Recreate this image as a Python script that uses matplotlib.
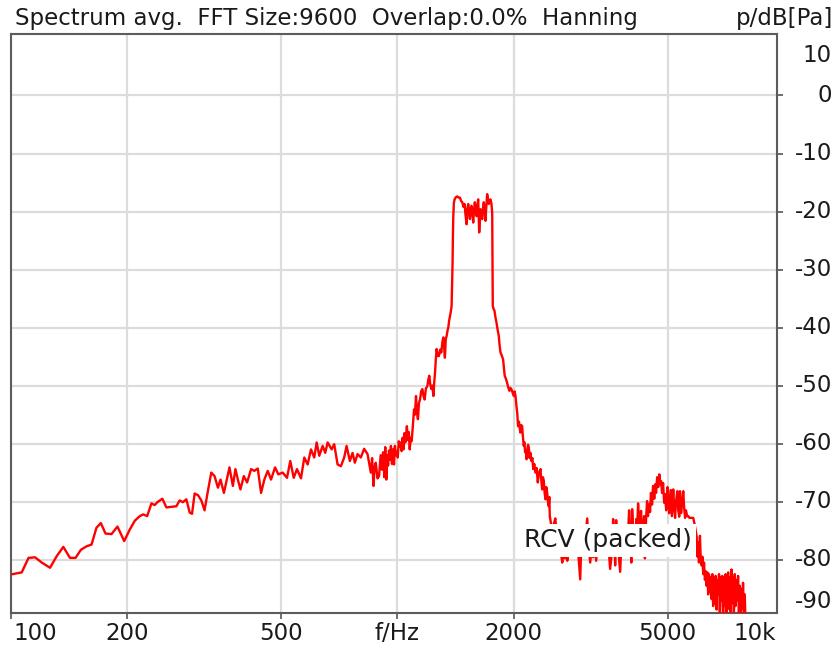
import matplotlib
matplotlib.use("Agg")
import matplotlib.pyplot as plt
import matplotlib.transforms as mtransforms
import numpy as np

plt.rcParams["font.family"] = ["DejaVu Sans"]

TITLE = "Spectrum avg.  FFT Size:9600  Overlap:0.0%  Hanning"
UNIT = "p/dB[Pa]"
CHANNEL = "RCV (packed)"

# below the tone: slow rise of the background noise
low_f = [101, 106.6, 111, 115.4, 120.1, 126.2, 131.3, 136.6, 142.1, 146.9,
         151.7, 156.9, 161.6, 166.4, 170.8, 175.6, 182.0, 188.6, 196.3, 203.0,
         209.1, 215.4, 219.8, 225.1, 230.9, 235.4, 239.2, 246.4, 252.4, 260.0,
         267.9, 273.2, 278.6, 284.3, 290.0, 294.1, 298.7, 304.8, 310.8, 316.9,
         322.0, 329.8]
low_db = [-82.5, -82.2, -79.7, -79.6, -80.5, -81.4, -79.4, -77.8, -79.7, -79.7,
          -78.3, -77.7, -77.4, -74.5, -73.7, -75.5, -75.6, -74.3, -76.8, -74.8,
          -73.3, -72.5, -72.2, -72.5, -70.3, -70.6, -70.1, -69.5, -71.0, -70.9,
          -70.8, -69.8, -70.1, -69.6, -71.9, -72.1, -68.6, -68.9, -69.8, -71.5,
          -68.8, -65.0]

mid_f = [336.3, 343.2, 348.5, 355.6, 362.6, 367.6, 375.1, 380.9, 386.4, 392.4,
         400.4, 408.3, 418.1, 426.4, 435.1, 443.7, 452.5, 461.7, 470.9, 482.3,
         491.8, 504.8, 517.9, 528.1, 539.0, 549.7, 562.9, 574.1, 585.7, 597.4,
         609.2, 618.0, 627.6, 640.4, 650.4, 659.8, 675.6, 686.1, 700.1, 714.0,
         728.1, 738.6, 753.2, 765.4, 775.9, 788.5, 804.1, 820.0, 836.8, 853.4,
         860, 867.3, 873, 879.0, 888, 896.4, 905, 912, 918, 925,
         930, 936, 941, 946, 951, 957, 962, 968, 974, 980,
         985, 990, 996, 1002, 1008, 1014, 1019, 1025, 1031, 1037,
         1042, 1048, 1053, 1058, 1064, 1070, 1076, 1082, 1088, 1093]
mid_db = [-65.6, -67.6, -66.2, -68.5, -65.9, -64.1, -67.3, -64.4, -66.2, -67.9,
          -65.6, -66.7, -64.4, -64.7, -64.3, -68.5, -66.2, -64.7, -66.2, -64.1,
          -65.3, -65.0, -65.9, -63.0, -65.9, -64.4, -66.0, -62.4, -63.6, -61.0,
          -62.4, -59.8, -62.1, -60.4, -61.6, -59.8, -61.0, -60.1, -63.6, -63.9,
          -62.4, -60.4, -63.0, -61.6, -63.3, -61.8, -62.4, -60.9, -61.8, -65.0,
          -62.5, -67.3, -64.0, -63.3, -66.0, -65.6, -62.0, -64.5, -61.5, -65.8,
          -60.6, -66.2, -62.0, -63.8, -61.2, -62.8, -60.4, -63.5, -61.0, -63.6,
          -60.4, -62.0, -61.3, -62.4, -59.6, -60.5, -59.8, -61.3, -59.0, -61.0,
          -58.2, -59.8, -58.6, -57.0, -59.4, -58.0, -61.0, -59.0, -59.6, -58.1]

# tone band with its steep skirts
tone_f = [1099, 1104, 1110, 1117, 1123, 1130, 1137, 1144, 1152, 1160,
          1168, 1176, 1185, 1195, 1202, 1209, 1216, 1224, 1232, 1239,
          1245, 1251, 1257, 1263, 1272, 1281, 1290, 1299, 1307, 1315,
          1321, 1327, 1334, 1341, 1348, 1354, 1361, 1368, 1375, 1381,
          1386, 1389, 1392, 1395, 1400, 1406, 1418, 1429, 1440, 1451,
          1462, 1472, 1482, 1492, 1500, 1510, 1517, 1525, 1532, 1540,
          1548, 1555, 1563, 1571, 1578, 1586, 1594, 1602, 1610, 1618,
          1623, 1628, 1634, 1641, 1649, 1657, 1665, 1673, 1681, 1690,
          1698, 1707, 1715, 1723, 1732, 1741, 1750, 1759, 1762, 1765,
          1774, 1783, 1793, 1804, 1816, 1829, 1838, 1848, 1862, 1877,
          1886, 1895, 1908, 1922, 1935, 1949, 1960, 1972, 1986, 2000,
          2010, 2021, 2032, 2042, 2052, 2063, 2074, 2081, 2090, 2103,
          2110, 2123, 2131, 2140, 2153, 2158, 2168, 2178, 2188, 2198,
          2210, 2222, 2235, 2246, 2260, 2277, 2292, 2308, 2325, 2346,
          2358, 2369, 2380, 2392, 2404, 2416, 2428, 2441, 2452, 2464,
          2472, 2479]
tone_db = [-56.0, -54.1, -55.0, -51.8, -54.5, -55.8, -53.0, -52.4, -51.0, -50.6,
           -51.8, -52.4, -50.5, -50.1, -49.0, -48.3, -49.8, -50.6, -50.0, -51.8,
           -49.5, -47.8, -45.5, -43.7, -44.9, -44.9, -43.8, -44.3, -42.5, -41.7,
           -43.5, -45.2, -42.0, -41.4, -40.5, -40.0, -38.8, -38.0, -37.2, -36.3,
           -32.0, -28.8, -24.0, -20.8, -18.5, -17.9, -17.5, -17.4, -17.6, -17.6,
           -18.2, -18.4, -19.2, -18.7, -20.5, -22.2, -19.5, -18.7, -20.0, -21.3,
           -19.5, -19.0, -20.5, -21.9, -19.8, -18.4, -19.6, -20.8, -19.0, -17.9,
           -20.5, -23.6, -21.5, -19.6, -20.2, -21.3, -19.5, -18.4, -19.8, -21.6,
           -19.2, -17.0, -17.8, -18.7, -18.2, -17.9, -18.5, -20.2, -28.0, -36.3,
           -36.8, -37.1, -38.2, -39.1, -40.3, -41.4, -43.0, -44.3, -44.8, -45.5,
           -47.0, -48.3, -48.8, -49.5, -50.3, -50.9, -50.4, -50.6, -51.2, -51.8,
           -51.0, -51.8, -53.5, -54.7, -57.0, -56.2, -57.5, -58.1, -56.8, -57.0,
           -58.5, -60.4, -59.8, -61.5, -61.6, -62.7, -61.0, -60.2, -60.7, -62.5,
           -61.6, -63.0, -62.5, -64.4, -63.5, -65.0, -64.2, -66.7, -65.0, -64.4,
           -66.5, -67.9, -65.8, -66.4, -68.5, -69.6, -67.5, -68.5, -70.0, -70.8,
           -69.2, -72.5]

# upper band: noise floor, harmonic hump near 5 kHz, roll-off to 8 kHz
high_f = [2500, 2518, 2540, 2562, 2585, 2608, 2630, 2650, 2671, 2695,
          2718, 2735, 2751, 2775, 2800, 2825, 2851, 2876, 2902, 2935,
          2972, 2990, 3010, 3026, 3060, 3099, 3120, 3154, 3180, 3211,
          3240, 3268, 3300, 3348, 3380, 3408, 3440, 3469, 3510, 3552,
          3585, 3616, 3640, 3660, 3681, 3720, 3770, 3800, 3837, 3870,
          3907, 3940, 3977, 4000, 4030, 4049, 4080, 4121, 4150, 4170,
          4195, 4230, 4271, 4300, 4348, 4370, 4400, 4426, 4450, 4480,
          4506, 4530, 4560, 4587, 4620, 4650, 4670, 4700, 4730, 4762,
          4790, 4815, 4839, 4870, 4900, 4926, 4960, 4999, 5030, 5050,
          5074, 5100, 5130, 5174, 5200, 5230, 5259, 5300, 5330, 5360,
          5385, 5420, 5450, 5491, 5520, 5550, 5580, 5620, 5656, 5700,
          5748, 5800, 5827, 5880, 5947, 5980, 6004, 6030, 6065, 6095,
          6127, 6155, 6185, 6215, 6248, 6280, 6310, 6340, 6370, 6400,
          6435, 6465, 6500, 6530, 6562, 6595, 6629, 6660, 6696, 6728,
          6760, 6795, 6829, 6860, 6898, 6930, 6964, 7000, 7035, 7070,
          7107, 7140, 7176, 7210, 7247, 7285, 7321, 7355, 7390, 7425,
          7464, 7500, 7540, 7575, 7613, 7650, 7689, 7730, 7767, 7805,
          7842, 7880, 7920, 7960, 8001]
high_db = [-74.0, -75.5, -73.8, -72.9, -76.0, -78.5, -77.0, -79.0, -80.5, -78.0,
           -79.8, -76.5, -80.2, -77.5, -75.0, -78.0, -76.5, -79.0, -77.2, -78.6,
           -83.4, -77.5, -75.8, -78.5, -76.2, -72.9, -77.0, -80.5, -78.0, -79.6,
           -77.0, -80.2, -76.5, -78.0, -75.0, -77.5, -76.0, -78.5, -77.0, -81.6,
           -79.0, -73.0, -76.5, -81.0, -73.2, -77.5, -82.1, -77.0, -74.5, -79.0,
           -75.0, -77.5, -71.5, -76.0, -80.5, -71.3, -75.5, -78.0, -73.0, -75.5,
           -70.3, -74.5, -71.6, -77.0, -72.5, -79.8, -73.0, -69.9, -72.5, -70.5,
           -71.8, -68.5, -70.5, -67.3, -69.5, -67.0, -68.5, -65.8, -67.5, -65.3,
           -67.0, -66.5, -68.5, -66.8, -70.2, -68.7, -71.5, -67.5, -70.0, -72.0,
           -70.8, -68.0, -72.5, -67.9, -71.0, -72.8, -70.0, -68.2, -71.5, -72.6,
           -68.2, -72.0, -70.5, -68.2, -71.0, -72.8, -71.5, -72.5, -72.5, -72.8,
           -72.8, -72.8, -72.8, -74.0, -76.0, -79.5, -77.0, -80.5, -75.9, -80.0,
           -81.0, -79.5, -82.5, -80.5, -83.5, -82.0, -84.5, -82.2, -86.0, -82.5,
           -85.5, -83.0, -86.8, -82.5, -88.0, -83.0, -87.5, -82.8, -88.6, -83.5,
           -86.0, -82.5, -89.5, -83.0, -87.0, -82.8, -90.5, -83.5, -88.0, -82.5,
           -90.0, -84.0, -82.2, -88.5, -83.0, -89.0, -81.7, -87.5, -83.0, -89.5,
           -82.5, -88.0, -83.5, -87.0, -82.8, -89.5, -84.5, -90.5, -85.0, -88.5,
           -84.0, -90.5, -86.0, -91.0, -92.0]

x_ticks = [200, 500, 1000, 2000, 5000]
x_labels = ["200", "500", "f/Hz", "2000", "5000"]
y_ticks = [0, -10, -20, -30, -40, -50, -60, -70, -80]

W, H = 836, 653
TEXT = "#1a1a1a"
FS = 16.5

freq = np.array(low_f + mid_f + tone_f + high_f)
level = np.array(low_db + mid_db + tone_db + high_db)

fig = plt.figure(figsize=(W / 100, H / 100), dpi=100)
ax = fig.add_axes([11 / W, 1 - 613 / H, (777 - 11) / W, (613 - 34) / H])

ax.plot(freq, level, color="#ff0000", linewidth=1.7, zorder=3)

ax.set_xscale("log")
ax.set_xlim(100, 9600)
ax.set_ylim(-89.2, 10.6)
ax.set_xticks([100] + x_ticks)
ax.set_xticks([], minor=True)
ax.set_yticks(y_ticks)
ax.grid(True, color="#dcdcdc", linewidth=1.6, zorder=0)
ax.set_axisbelow(True)

ax.yaxis.tick_right()
ax.tick_params(axis="both", which="both", direction="out", length=4, width=1.2,
               color="#555555", labelbottom=False, labelright=False, labelleft=False)
for side in ax.spines.values():
    side.set_color("#5c5c5c")
    side.set_linewidth(1.5)

# tick labels placed by hand so the edge ones stay inside the frame
xlab = mtransforms.blended_transform_factory(ax.transData, fig.transFigure)
for f, lab in zip(x_ticks, x_labels):
    fig.text(f, 1 - 633 / H, lab, transform=xlab, ha="center", va="center",
             fontsize=FS, color=TEXT)
fig.text(35 / W, 1 - 633 / H, "100", ha="center", va="center", fontsize=FS, color=TEXT)
fig.text(776 / W, 1 - 633 / H, "10k", ha="right", va="center", fontsize=FS, color=TEXT)

ylab = mtransforms.blended_transform_factory(fig.transFigure, ax.transData)
for v in y_ticks:
    fig.text(832 / W, v, str(v), transform=ylab, ha="right", va="center",
             fontsize=FS, color=TEXT)
fig.text(832 / W, 1 - 55 / H, "10", ha="right", va="center", fontsize=FS, color=TEXT)
fig.text(832 / W, 1 - 601 / H, "-90", ha="right", va="center", fontsize=FS, color=TEXT)

fig.text(15 / W, 1 - 19 / H, TITLE, ha="left", va="center", fontsize=FS, color=TEXT)
fig.text(833 / W, 1 - 19 / H, UNIT, ha="right", va="center", fontsize=FS, color=TEXT)

ax.text(3500, -76.7, CHANNEL, ha="center", va="center", fontsize=18, color=TEXT,
        zorder=5, bbox=dict(boxstyle="square,pad=0.18", facecolor="white", edgecolor="none"))

fig.savefig("out.png", dpi=100)
plt.close(fig)
